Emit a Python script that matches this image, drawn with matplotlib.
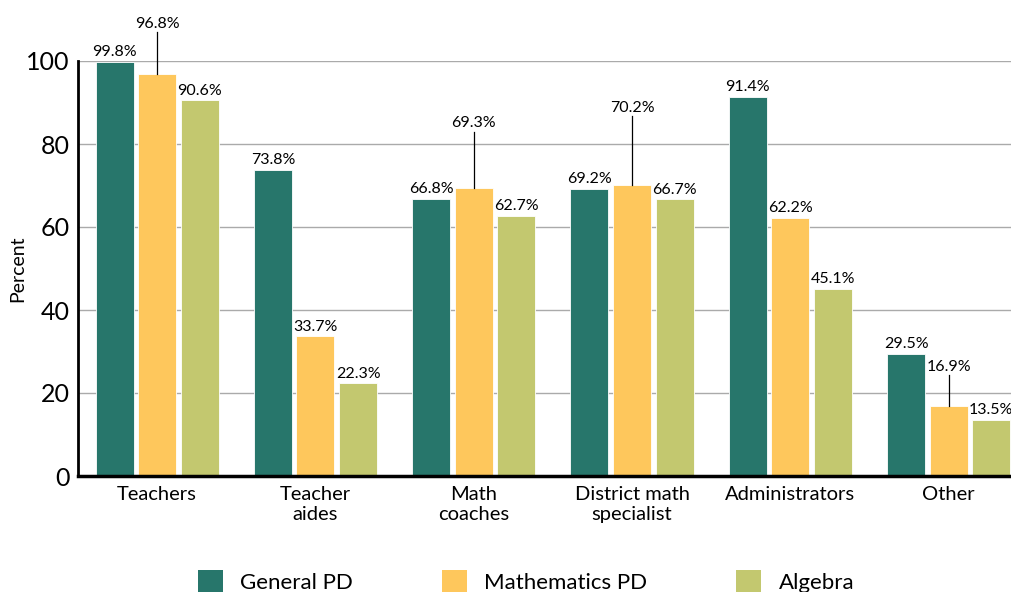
import matplotlib.pyplot as plt
from matplotlib.patches import Patch
import numpy as np

categories = ['Teachers', 'Teacher\naides', 'Math\ncoaches', 'District math\nspecialist', 'Administrators', 'Other']
series_names = ['General PD', 'Mathematics PD', 'Algebra']
general_pd = [99.8, 73.8, 66.8, 69.2, 91.4, 29.5]
math_pd = [96.8, 33.7, 69.3, 70.2, 62.2, 16.9]
algebra = [90.6, 22.3, 62.7, 66.7, 45.1, 13.5]

colors = ['#27766b', '#fec75c', '#c3c86f']
# raised labels with a leader line (Mathematics PD): where the line ends
leader_top = {0: 107.0, 2: 83.0, 3: 86.7, 5: 24.3}

plt.rcParams['font.family'] = ['Lato', 'DejaVu Sans']

fig = plt.figure(figsize=(10.12, 5.92), dpi=100)
ax = fig.add_axes([78 / 1012, 116 / 592, 1 - 78 / 1012, (476 - 61) / 592])

x = np.arange(len(categories))
width = 0.24
step = 0.269
series = [general_pd, math_pd, algebra]

for i, vals in enumerate(series):
    xs = x + (i - 1) * step
    ax.bar(xs, vals, width=width, color=colors[i], edgecolor='white', linewidth=0.6, zorder=3)
    for j, (xx, v) in enumerate(zip(xs, vals)):
        if i == 1 and j in leader_top:
            top = leader_top[j]
            ax.plot([xx, xx], [v, top], color='black', linewidth=0.9, zorder=4, clip_on=False)
            ax.text(xx, top + 0.3, f'{v}%', ha='center', va='bottom', fontsize=11.5, clip_on=False)
        else:
            ax.text(xx, v + 0.6, f'{v}%', ha='center', va='bottom', fontsize=11.5, clip_on=False)

ax.set_xlim(-0.5, 5.4)
ax.set_ylim(0, 100)
ax.set_yticks([0, 20, 40, 60, 80, 100])
ax.tick_params(axis='y', labelsize=18, length=0, pad=6)
ax.set_xticks(x)
ax.set_xticklabels(categories, fontsize=14.5, linespacing=1.2)
ax.tick_params(axis='x', length=0, pad=7)
ax.yaxis.grid(True, color='#aaaaaa', linewidth=1, zorder=0)
ax.set_axisbelow(True)
for s in ['top', 'right']:
    ax.spines[s].set_visible(False)
ax.spines['left'].set_linewidth(2)
ax.spines['bottom'].set_linewidth(2.5)
ax.spines['left'].set_zorder(5)
ax.spines['bottom'].set_zorder(5)
ax.set_ylabel('Percent', fontsize=14)
ax.yaxis.set_label_coords(-52 / 934, 0.5)

handles = [Patch(facecolor=c, edgecolor='none') for c in colors]
fig.legend(handles, series_names, loc='lower center', bbox_to_anchor=(0.52, -0.035), ncol=3,
           frameon=False, fontsize=16, handlelength=1.1, handleheight=1.2,
           handletextpad=0.8, columnspacing=4.0)

fig.savefig('out.png', dpi=100)
